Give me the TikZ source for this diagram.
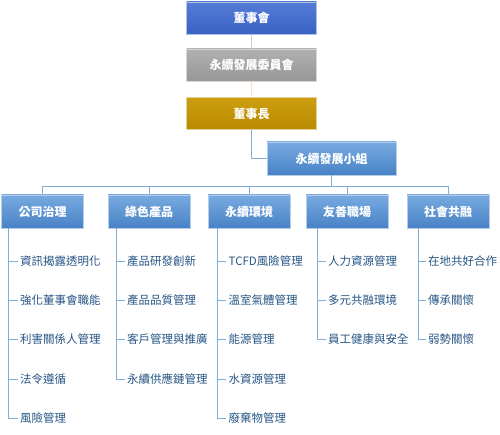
\documentclass[tikz,border=0pt]{standalone}
\usepackage{fontspec}
\setmainfont{Noto Sans CJK TC}
\usetikzlibrary{positioning}
\definecolor{linkblue}{RGB}{125,175,217}
\definecolor{itemblue}{RGB}{38,84,132}
\definecolor{boardtop}{RGB}{84,124,214}
\definecolor{boardbot}{RGB}{58,98,196}
\definecolor{greytop}{RGB}{176,176,176}
\definecolor{greybot}{RGB}{152,152,152}
\definecolor{goldtop}{RGB}{204,158,16}
\definecolor{goldbot}{RGB}{186,138,0}
\definecolor{cattop}{RGB}{120,170,224}
\definecolor{catbot}{RGB}{72,130,198}

\begin{document}
\begin{tikzpicture}[x=1pt,y=-1pt,
    box/.style={minimum width=130pt,minimum height=32pt,inner sep=0pt,draw=white!60!#1,
      text=white,font=\fontsize{12}{14}\selectfont\bfseries},
    topbox/.style={box=boardbot,top color=boardtop,bottom color=boardbot},
    graybox/.style={box=greybot,top color=greytop,bottom color=greybot},
    goldbox/.style={box=goldbot,top color=goldtop,bottom color=goldbot},
    catbox/.style={box=catbot,minimum width=82pt,minimum height=33pt,
      top color=cattop,bottom color=catbot},
    item/.style={anchor=west,inner sep=2.5pt,text=itemblue,font=\fontsize{11.5}{13}\selectfont},
    link/.style={draw=linkblue,line width=0.8pt}]
 \useasboundingbox (0,0) rectangle (500,435);

 \node[topbox] (board) at (251.5,18) {董事會};
 \node[graybox] (committee) at (251.5,65) {永續發展委員會};
 \node[goldbox] (chair) at (251.5,113.5) {董事長};
 \node[catbox,minimum width=129pt] (group) at (331.5,158.5) {永續發展小組};

 \draw[link,draw=black!20] (board) -- (committee);
 \draw[link,draw=orange!25] (committee) -- (chair);
 \draw[link] (chair) |- (group.west);

 \node[catbox] (gov) at (42.5,211.5) {公司治理};
 \node[catbox] (green) at (149,211.5) {綠色產品};
 \node[catbox] (env) at (249,211.5) {永續環境};
 \node[catbox] (work) at (347,211.5) {友善職場};
 \node[catbox] (soc) at (448,211.5) {社會共融};

 \coordinate (bus) at (331.5,186);
 \draw[link] (group) -- (bus);
 \draw[link] (bus) -| (gov.north);
 \draw[link] (bus) -| (green.north);
 \draw[link] (bus) -| (env.north);
 \draw[link] (bus) -| (work.north);
 \draw[link] (bus) -| (soc.north);

 % 公司治理
 \node[item] (gov1) at (17.5,261) {資訊揭露透明化};
 \node[item] (gov2) at (17.5,300) {強化董事會職能};
 \node[item] (gov3) at (17.5,339) {利害關係人管理};
 \node[item] (gov4) at (17.5,379) {法令遵循};
 \node[item] (gov5) at (17.5,418) {風險管理};
 \draw[link] ([xshift=7.5pt]gov.south west) |- (gov1.west);
 \draw[link] ([xshift=7.5pt]gov.south west) |- (gov2.west);
 \draw[link] ([xshift=7.5pt]gov.south west) |- (gov3.west);
 \draw[link] ([xshift=7.5pt]gov.south west) |- (gov4.west);
 \draw[link] ([xshift=7.5pt]gov.south west) |- (gov5.west);

 % 綠色產品
 \node[item] (green1) at (124.5,261) {產品研發創新};
 \node[item] (green2) at (124.5,300) {產品品質管理};
 \node[item] (green3) at (124.5,339) {客戶管理與推廣};
 \node[item] (green4) at (124.5,379) {永續供應鏈管理};
 \draw[link] ([xshift=8.5pt]green.south west) |- (green1.west);
 \draw[link] ([xshift=8.5pt]green.south west) |- (green2.west);
 \draw[link] ([xshift=8.5pt]green.south west) |- (green3.west);
 \draw[link] ([xshift=8.5pt]green.south west) |- (green4.west);

 % 永續環境
 \node[item] (env1) at (226,261) {TCFD風險管理};
 \node[item] (env2) at (226,300) {溫室氣體管理};
 \node[item] (env3) at (226,339) {能源管理};
 \node[item] (env4) at (226,379) {水資源管理};
 \node[item] (env5) at (226,418) {廢棄物管理};
 \draw[link] ([xshift=10pt]env.south west) |- (env1.west);
 \draw[link] ([xshift=10pt]env.south west) |- (env2.west);
 \draw[link] ([xshift=10pt]env.south west) |- (env3.west);
 \draw[link] ([xshift=10pt]env.south west) |- (env4.west);
 \draw[link] ([xshift=10pt]env.south west) |- (env5.west);

 % 友善職場
 \node[item] (work1) at (325.5,261) {人力資源管理};
 \node[item] (work2) at (325.5,300) {多元共融環境};
 \node[item] (work3) at (325.5,339) {員工健康與安全};
 \draw[link] ([xshift=11.5pt]work.south west) |- (work1.west);
 \draw[link] ([xshift=11.5pt]work.south west) |- (work2.west);
 \draw[link] ([xshift=11.5pt]work.south west) |- (work3.west);

 % 社會共融
 \node[item] (soc1) at (425.5,261) {在地共好合作};
 \node[item] (soc2) at (425.5,300) {傳承關懷};
 \node[item] (soc3) at (425.5,339) {弱勢關懷};
 \draw[link] ([xshift=11.5pt]soc.south west) |- (soc1.west);
 \draw[link] ([xshift=11.5pt]soc.south west) |- (soc2.west);
 \draw[link] ([xshift=11.5pt]soc.south west) |- (soc3.west);
\end{tikzpicture}
\end{document}
